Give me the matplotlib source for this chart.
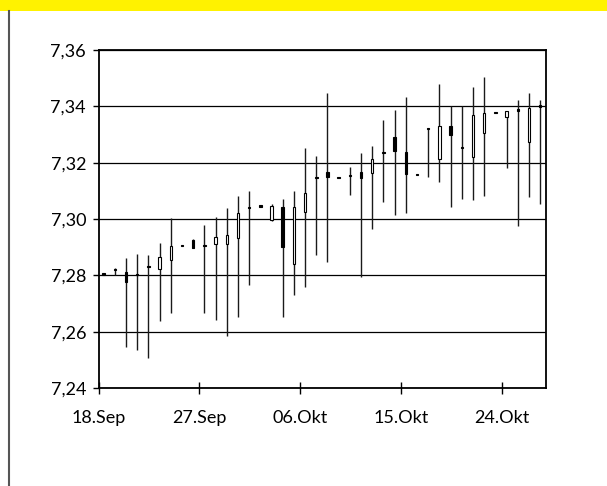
import numpy as np
import pandas as pd
import matplotlib
matplotlib.use('Agg')
import matplotlib.pyplot as plt
import matplotlib.dates as mdates
from matplotlib.patches import Rectangle
from matplotlib.lines import Line2D

# Daily quotes, 18.Sep - 27.Okt
dates = pd.date_range('2000-09-18', periods=40, freq='D')

open_ = [7.2807, 7.2824, 7.2812, 7.2806, 7.2832, 7.2822, 7.2854, 7.2908, 7.2926, 7.2909,
         7.2913, 7.2913, 7.2931, 7.3043, 7.3048, 7.2997, 7.3043, 7.2839, 7.3026, 7.3150,
         7.3166, 7.3150, 7.3156, 7.3166, 7.3162, 7.3237, 7.3290, 7.3239, 7.3159, 7.3324,
         7.3212, 7.3330, 7.3256, 7.3221, 7.3306, 7.3381, 7.3363, 7.3389, 7.3272, 7.3404]
high = [7.2807, 7.2825, 7.2860, 7.2875, 7.2871, 7.2915, 7.3002, 7.2908, 7.2928, 7.2977,
        7.3008, 7.3039, 7.3081, 7.3100, 7.3048, 7.3055, 7.3071, 7.3100, 7.3253, 7.3223,
        7.3446, 7.3150, 7.3183, 7.3233, 7.3259, 7.3351, 7.3387, 7.3432, 7.3159, 7.3324,
        7.3479, 7.3402, 7.3402, 7.3467, 7.3503, 7.3381, 7.3383, 7.3422, 7.3448, 7.3422]
low = [7.2803, 7.2800, 7.2546, 7.2534, 7.2508, 7.2637, 7.2667, 7.2904, 7.2896, 7.2665,
       7.2641, 7.2584, 7.2653, 7.2766, 7.3044, 7.2994, 7.2653, 7.2730, 7.2757, 7.2874,
       7.2848, 7.3146, 7.3087, 7.2793, 7.2964, 7.3061, 7.3014, 7.3020, 7.3155, 7.3150,
       7.3132, 7.3043, 7.3071, 7.3067, 7.3082, 7.3377, 7.3180, 7.2975, 7.3079, 7.3053]
close = [7.2803, 7.2818, 7.2777, 7.2802, 7.2828, 7.2864, 7.2905, 7.2904, 7.2898, 7.2905,
         7.2937, 7.2943, 7.3023, 7.3039, 7.3044, 7.3045, 7.2899, 7.3043, 7.3094, 7.3146,
         7.3150, 7.3146, 7.3152, 7.3144, 7.3213, 7.3233, 7.3242, 7.3160, 7.3155, 7.3320,
         7.3330, 7.3297, 7.3252, 7.3370, 7.3375, 7.3377, 7.3383, 7.3385, 7.3393, 7.3398]

tick_dates = ['2000-09-18', '2000-09-27', '2000-10-06', '2000-10-15', '2000-10-24']
tick_labels = ['18.Sep', '27.Sep', '06.Okt', '15.Okt', '24.Okt']
y_ticks = [7.24, 7.26, 7.28, 7.30, 7.32, 7.34, 7.36]

plt.rcParams['font.family'] = ['Lato', 'DejaVu Sans']

fig = plt.figure(figsize=(6.07, 4.86), dpi=100)
ax = fig.add_axes([0.1624, 0.2016, 0.7376, 0.6955])

x = mdates.date2num(dates) + 0.45
o = np.array(open_)
c = np.array(close)

ax.vlines(x, low, high, color='#1a1a1a', lw=1.0, zorder=3)
up = c >= o
body = np.abs(c - o)
ax.bar(x[up], body[up], bottom=o[up], width=0.22, color='white',
       edgecolor='black', lw=0.8, zorder=4)
ax.bar(x[~up], body[~up], bottom=c[~up], width=0.22, color='black',
       edgecolor='black', lw=0.8, zorder=4)

ax.set_ylim(7.24, 7.36)
ax.set_yticks(y_ticks)
ax.set_yticklabels([f'{v:.2f}'.replace('.', ',') for v in y_ticks], fontsize=13)
ax.yaxis.grid(True, color='black', lw=0.9)
ax.set_axisbelow(True)

t0 = mdates.date2num(pd.Timestamp('2000-09-18'))
ax.set_xlim(t0, t0 + 40)
ax.set_xticks(mdates.date2num(pd.to_datetime(tick_dates)))
ax.set_xticklabels(tick_labels, fontsize=13)

ax.tick_params(axis='x', direction='inout', length=8, width=1, pad=12)
ax.tick_params(axis='y', direction='out', length=4, width=1, pad=5)
for s in ax.spines.values():
    s.set_linewidth(1.3)
    s.set_color('black')

# banner strip at the top and the rule at the left
fig.patches.append(Rectangle((0, 1 - 11 / 486), 1, 11 / 486, transform=fig.transFigure,
                             facecolor='#fff200', edgecolor='none'))
fig.lines.append(Line2D([8.5 / 607, 8.5 / 607], [0, 1 - 11 / 486], transform=fig.transFigure,
                        color='#555555', lw=1.5))

fig.savefig('out.png', dpi=100)
